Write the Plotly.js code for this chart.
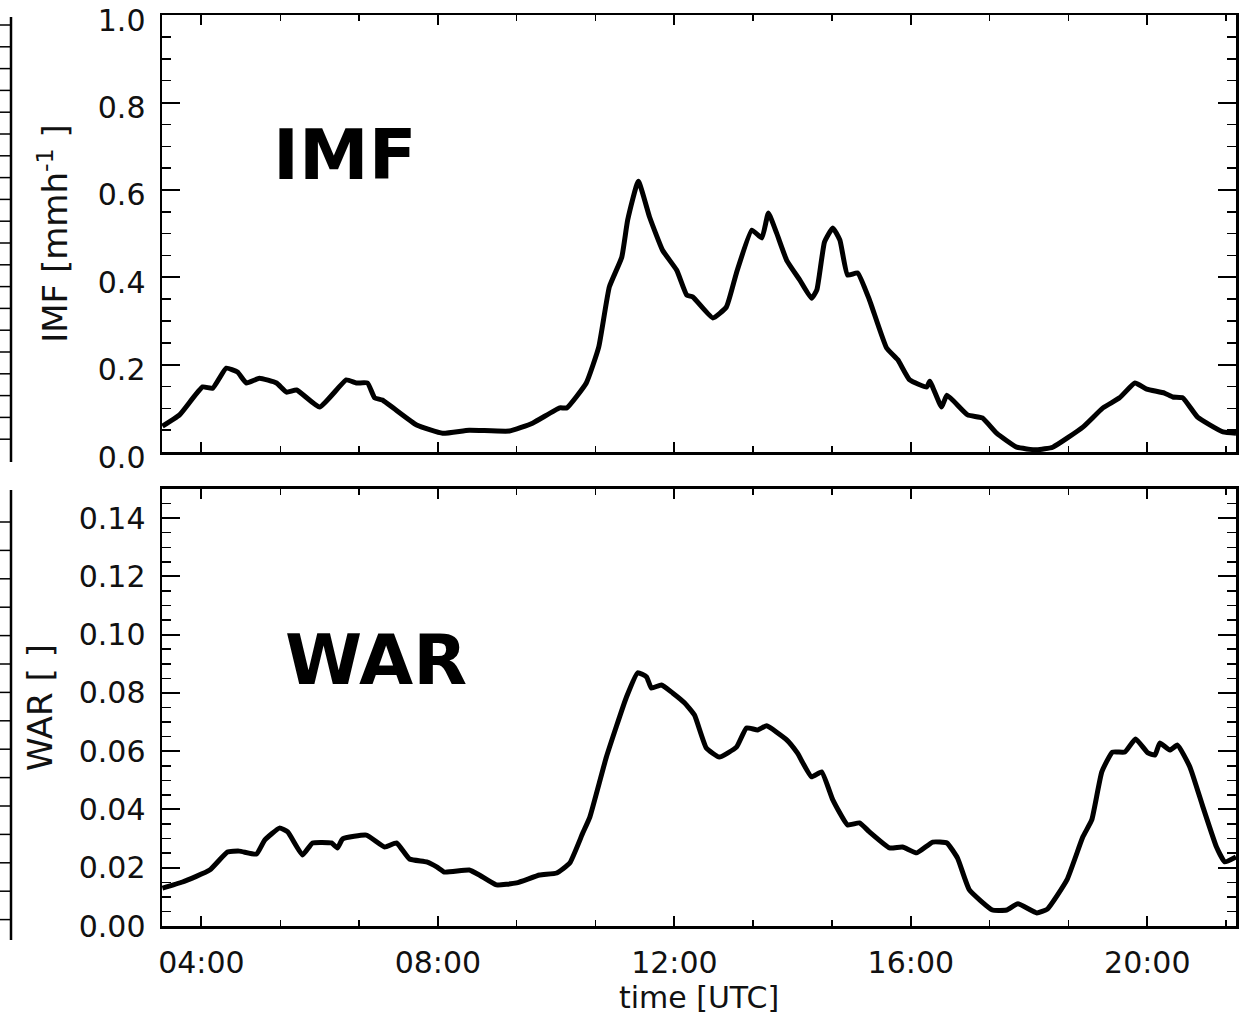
<!DOCTYPE html>
<html>
<head>
<meta charset="utf-8">
<script src="https://cdn.plot.ly/plotly-3.0.1.min.js"></script>
<style>html,body{margin:0;padding:0;background:#fff;}#chart{width:1245px;height:1023px;}</style>
</head>
<body>
<div id="chart"></div>
<script>
// ---- Data (time in decimal hours UTC) ----
const imfHours = [3.34,3.63,4.02,4.19,4.42,4.61,4.76,4.98,5.27,5.44,5.61,6.00,6.45,6.62,6.81,6.93,7.06,7.64,8.08,8.53,9.21,9.60,10.06,10.18,10.51,10.72,10.90,11.11,11.21,11.39,11.58,11.80,12.04,12.21,12.31,12.65,12.88,13.05,13.31,13.48,13.59,13.73,13.90,14.12,14.32,14.41,14.54,14.68,14.80,14.93,15.10,15.30,15.59,15.78,15.98,16.27,16.32,16.52,16.61,16.96,17.21,17.45,17.79,18.13,18.40,18.91,19.25,19.53,19.79,19.99,20.29,20.43,20.60,20.85,21.28,21.50];
const imfValues = [0.059,0.085,0.149,0.146,0.192,0.183,0.158,0.169,0.158,0.137,0.142,0.103,0.165,0.158,0.158,0.124,0.119,0.062,0.043,0.050,0.048,0.066,0.101,0.101,0.158,0.240,0.378,0.446,0.531,0.620,0.538,0.462,0.416,0.359,0.355,0.307,0.332,0.410,0.508,0.490,0.547,0.501,0.439,0.394,0.352,0.371,0.481,0.513,0.485,0.405,0.410,0.348,0.238,0.211,0.165,0.149,0.162,0.103,0.130,0.085,0.078,0.043,0.011,0.005,0.011,0.057,0.101,0.124,0.158,0.144,0.135,0.126,0.124,0.080,0.046,0.043];

const warHours = [3.34,3.68,4.14,4.44,4.64,4.93,5.07,5.32,5.46,5.71,5.88,6.20,6.30,6.39,6.79,7.10,7.30,7.52,7.81,7.98,8.11,8.53,8.70,8.99,9.33,9.72,10.01,10.23,10.45,10.57,10.85,11.19,11.38,11.53,11.61,11.78,11.97,12.17,12.34,12.54,12.76,13.05,13.22,13.41,13.56,13.90,14.08,14.32,14.49,14.68,14.93,15.13,15.30,15.64,15.86,16.10,16.37,16.61,16.79,16.99,17.38,17.62,17.81,18.13,18.31,18.64,18.91,19.06,19.23,19.41,19.62,19.80,20.01,20.13,20.21,20.38,20.51,20.72,20.94,21.17,21.31,21.50];
const warValues = [0.0130,0.0151,0.0192,0.0254,0.0257,0.0247,0.0295,0.0336,0.0323,0.0244,0.0285,0.0285,0.0268,0.0299,0.0312,0.0271,0.0285,0.0230,0.0220,0.0203,0.0185,0.0192,0.0175,0.0141,0.0148,0.0175,0.0182,0.0216,0.0319,0.0374,0.0580,0.0786,0.0869,0.0855,0.0817,0.0827,0.0800,0.0766,0.0724,0.0611,0.0580,0.0614,0.0680,0.0673,0.0687,0.0639,0.0594,0.0512,0.0529,0.0433,0.0347,0.0354,0.0323,0.0268,0.0271,0.0251,0.0288,0.0285,0.0233,0.0124,0.0055,0.0055,0.0076,0.0045,0.0058,0.0158,0.0306,0.0364,0.0529,0.0597,0.0597,0.0642,0.0594,0.0587,0.0628,0.0604,0.0621,0.0546,0.0409,0.0271,0.0220,0.0237];

const timeTickValues = [4, 8, 12, 16, 20];
const timeTickLabels = ["04:00", "08:00", "12:00", "16:00", "20:00"];
const imfTickValues = [0, 0.2, 0.4, 0.6, 0.8, 1.0];
const imfTickLabels = ["0.0", "0.2", "0.4", "0.6", "0.8", "1.0"];
const warTickValues = [0, 0.02, 0.04, 0.06, 0.08, 0.10, 0.12, 0.14];
const warTickLabels = ["0.00", "0.02", "0.04", "0.06", "0.08", "0.10", "0.12", "0.14"];
const panelLabels = ["IMF", "WAR"];

// ---- Styling ----
const FONT = "DejaVu Sans, Liberation Sans, Arial, sans-serif";
const LINE = {color: "#000", width: 5, shape: "spline", smoothing: 0.4};

const traces = [
  {x: imfHours, y: imfValues, xaxis: "x", yaxis: "y", mode: "lines", line: LINE, hoverinfo: "skip"},
  {x: warHours, y: warValues, xaxis: "x2", yaxis: "y2", mode: "lines", line: LINE, hoverinfo: "skip"}
];

const xCommon = {
  range: [3.333, 21.5],
  tickmode: "array", tickvals: timeTickValues, ticktext: timeTickLabels,
  ticks: "inside", ticklen: 10, tickwidth: 2, tickcolor: "#000",
  minor: {tickmode: "linear", tick0: 4, dtick: 4/3, ticks: "inside", ticklen: 6, tickwidth: 1.5, tickcolor: "#000"},
  showline: true, linewidth: 2.5, linecolor: "#000", mirror: "ticks",
  showgrid: false, zeroline: false, fixedrange: true
};
const yCommon = {
  tickmode: "array",
  ticks: "inside", ticklen: 18, tickwidth: 2, tickcolor: "#000",
  showline: true, linewidth: 2.5, linecolor: "#000", mirror: "ticks",
  showgrid: false, zeroline: false, fixedrange: true,
  tickfont: {family: FONT, size: 30, color: "#111"},
  ticklabelstandoff: 8, ticklabeloverflow: "allow"
};

// neighbour-panel edge (cropped in the original)
const shapes = [];
function px2paperX(px){ return (px - 162) / 1074; }
function py2paperY(py){ return (926 - py) / 911; }
shapes.push({type: "line", xref: "paper", yref: "paper", x0: px2paperX(11), x1: px2paperX(11), y0: py2paperY(17), y1: py2paperY(462), line: {color: "#000", width: 2.5}});
shapes.push({type: "line", xref: "paper", yref: "paper", x0: px2paperX(11), x1: px2paperX(11), y0: py2paperY(490), y1: py2paperY(940), line: {color: "#000", width: 2.5}});
for (let py = 25; py <= 458; py += 21.8) {
  shapes.push({type: "line", xref: "paper", yref: "paper", x0: px2paperX(0), x1: px2paperX(11), y0: py2paperY(py), y1: py2paperY(py), line: {color: "#000", width: 1.5}});
}
for (let py = 522; py <= 936; py += 28.4) {
  shapes.push({type: "line", xref: "paper", yref: "paper", x0: px2paperX(0), x1: px2paperX(11), y0: py2paperY(py), y1: py2paperY(py), line: {color: "#000", width: 1.5}});
}

const layout = {
  width: 1245, height: 1023,
  margin: {l: 162, r: 9, t: 15, b: 97},
  paper_bgcolor: "#fff", plot_bgcolor: "#fff",
  showlegend: false,
  font: {family: FONT, color: "#111"},
  xaxis: Object.assign({}, xCommon, {anchor: "y", showticklabels: false}),
  xaxis2: Object.assign({}, xCommon, {anchor: "y2", matches: "x", showticklabels: true,
    tickfont: {family: FONT, size: 30, color: "#111"}, ticklabelstandoff: 8,
    title: {text: "time [UTC]", font: {family: FONT, size: 30, color: "#111"}, standoff: 0}}),
  yaxis: Object.assign({}, yCommon, {domain: [0.5203, 1], range: [0, 1.0005],
    tickvals: imfTickValues, ticktext: imfTickLabels, ticklabelshift: 5,
    minor: {tickmode: "linear", tick0: 0, dtick: 0.05, ticks: "inside", ticklen: 9, tickwidth: 1.5, tickcolor: "#000"},
    title: {text: "IMF [mmh<sup>-1</sup> ]", font: {family: FONT, size: 34, color: "#111"}, standoff: 20}}),
  yaxis2: Object.assign({}, yCommon, {domain: [0, 0.4797], range: [0, 0.15],
    tickvals: warTickValues, ticktext: warTickLabels,
    minor: {tickmode: "linear", tick0: 0, dtick: 0.005, ticks: "inside", ticklen: 9, tickwidth: 1.5, tickcolor: "#000"},
    title: {text: "WAR [ ]", font: {family: FONT, size: 34, color: "#111"}, standoff: 16}}),
  annotations: [
    {text: panelLabels[0], xref: "x domain", yref: "y domain", x: 0.17, y: 0.68, showarrow: false,
     xanchor: "center", yanchor: "middle", font: {family: FONT, size: 70, color: "#000", weight: 900}},
    {text: panelLabels[1], xref: "x2 domain", yref: "y2 domain", x: 0.199, y: 0.609, showarrow: false,
     xanchor: "center", yanchor: "middle", font: {family: FONT, size: 70, color: "#000", weight: 900}}
  ],
  shapes: shapes
};

Plotly.newPlot("chart", traces, layout, {staticPlot: true, displayModeBar: false});
</script>
</body>
</html>
